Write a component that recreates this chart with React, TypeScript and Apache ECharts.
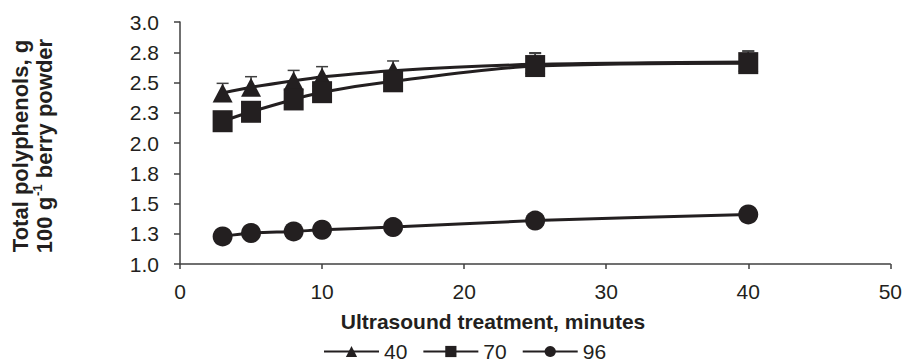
import React, { useEffect, useRef } from "react";
import * as echarts from "echarts";

const minutes = [3, 5, 8, 10, 15, 25, 40];
const series40 = [2.413, 2.46, 2.515, 2.546, 2.598, 2.65, 2.67];
const series70 = [2.18, 2.258, 2.36, 2.42, 2.51, 2.636, 2.66];
const series96 = [1.228, 1.256, 1.269, 1.283, 1.305, 1.359, 1.41];
const err40 = [0.08, 0.088, 0.085, 0.085, 0.08, 0.09, 0.09];
const err70 = [0.04, 0.04, 0.05, 0.05, 0.06, 0.11, 0.1];
const err96 = [0.01, 0.01, 0.01, 0.01, 0.01, 0.01, 0.01];
const seriesNames = ["40", "70", "96"];
const xTitle = "Ultrasound treatment, minutes";

const INK = "#231f20";
const AXIS = "#404040";
const FONT = "Liberation Sans, Arial, sans-serif";

function pairs(ys: number[]) {
  return minutes.map((x, i) => [x, ys[i]]);
}
function triples(ys: number[], es: number[]) {
  return minutes.map((x, i) => [x, ys[i], es[i]]);
}

function errorSeries(ys: number[], es: number[]) {
  return {
    type: "custom",
    z: 1,
    silent: true,
    data: triples(ys, es),
    encode: { x: 0, y: 1 },
    renderItem: (params: any, api: any) => {
      const x = api.value(0);
      const y = api.value(1);
      const e = api.value(2);
      const top = api.coord([x, y + e]);
      const mid = api.coord([x, y]);
      const style = { stroke: AXIS, lineWidth: 1.5 };
      return {
        type: "group",
        children: [
          { type: "line", shape: { x1: top[0], y1: top[1], x2: mid[0], y2: mid[1] }, style },
          { type: "line", shape: { x1: top[0] - 6, y1: top[1], x2: top[0] + 6, y2: top[1] }, style },
        ],
      };
    },
  };
}

function lineSeries(name: string, ys: number[], symbol: string, size: any) {
  return {
    type: "line",
    name,
    z: 3,
    data: pairs(ys),
    smooth: 0.3,
    symbol,
    symbolSize: size,
    showAllSymbol: true,
    itemStyle: { color: INK },
    lineStyle: { color: INK, width: 3 },
  };
}

export default function App() {
  const ref = useRef<HTMLDivElement>(null);
  useEffect(() => {
    if (!ref.current) return;
    const chart = echarts.init(ref.current, null, { renderer: "svg" });
    chart.setOption({
      animation: false,
      backgroundColor: "#ffffff",
      textStyle: { fontFamily: FONT },
      grid: { left: 180, right: 14, top: 22, bottom: 99, containLabel: false },
      xAxis: {
        type: "value",
        min: 0,
        max: 50,
        interval: 10,
        axisLine: { show: true, lineStyle: { color: AXIS, width: 1.5 } },
        axisTick: { show: true, inside: false, length: 5, lineStyle: { color: AXIS, width: 1.5 } },
        splitLine: { show: false },
        axisLabel: { color: INK, fontSize: 21, fontFamily: FONT, margin: 17 },
      },
      yAxis: {
        type: "value",
        min: 1,
        max: 3,
        interval: 0.25,
        axisLine: { show: true, lineStyle: { color: AXIS, width: 1.5 } },
        axisTick: { show: true, inside: false, length: 6, lineStyle: { color: AXIS, width: 1.5 } },
        splitLine: { show: false },
        axisLabel: {
          color: INK,
          fontSize: 21,
          fontFamily: FONT,
          margin: 21,
          formatter: (v: number) => v.toFixed(1),
        },
      },
      legend: {
        data: seriesNames,
        left: 323,
        top: 341,
        padding: 0,
        itemWidth: 55,
        itemHeight: 14,
        itemGap: 15,
        textStyle: { color: INK, fontSize: 21, fontFamily: FONT },
      },
      graphic: [
        {
          type: "text",
          x: 493,
          y: 321,
          style: {
            text: xTitle,
            font: `bold 21px ${FONT}`,
            fill: INK,
            textAlign: "center",
            textVerticalAlign: "middle",
          },
        },
        {
          type: "text",
          x: 31,
          y: 146,
          rotation: Math.PI / 2,
          style: {
            text: "{b|Total polyphenols, g}\n{b|100 g}{s|-1}{b| berry powder}",
            fill: INK,
            textAlign: "center",
            textVerticalAlign: "middle",
            rich: {
              b: { font: `bold 22px ${FONT}`, fill: INK, lineHeight: 24, verticalAlign: "bottom" },
              s: { font: `bold 13px ${FONT}`, fill: INK, lineHeight: 24, verticalAlign: "top", padding: [0, 0, 0, 1] },
            },
          },
        },
      ],
      series: [
        errorSeries(series40, err40),
        errorSeries(series70, err70),
        errorSeries(series96, err96),
        lineSeries("40", series40, "triangle", [20, 19]),
        lineSeries("70", series70, "rect", [20, 22]),
        lineSeries("96", series96, "circle", 20),
      ],
    });
    return () => chart.dispose();
  }, []);
  return (
    <div
      ref={ref}
      style={{ position: "fixed", left: 0, top: 0, width: 905, height: 363, background: "#fff" }}
    />
  );
}
